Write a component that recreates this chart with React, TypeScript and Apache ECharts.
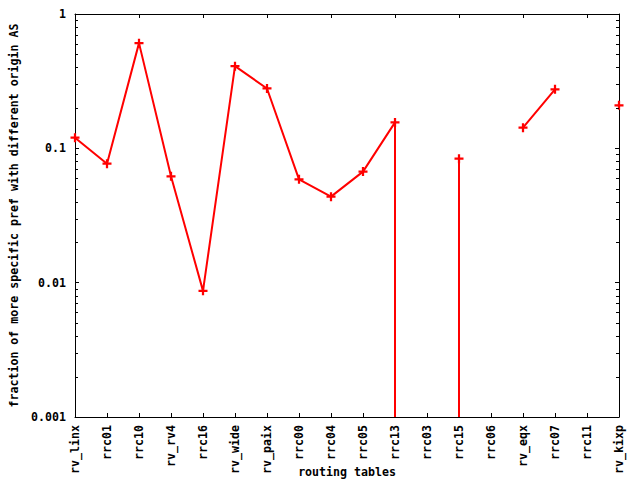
import React, { useEffect, useRef } from "react";
import * as echarts from "echarts";

const categories = [
  "rv_linx", "rrc01", "rrc10", "rv_rv4", "rrc16", "rv_wide", "rv_paix", "rrc00", "rrc04",
  "rrc05", "rrc13", "rrc03", "rrc15", "rrc06", "rv_eqx", "rrc07", "rrc11", "rv_kixp",
];
const values: (number | null)[] = [
  0.120, 0.0769, 0.607, 0.0619, 0.00869, 0.409, 0.279, 0.0588, 0.0437,
  0.0671, 0.156, null, 0.0838, null, 0.1425, 0.275, null, 0.209,
];
const dropCategories = ["rrc13", "rrc15"];
const yTickValues = [0.001, 0.01, 0.1, 1];
const yMin = 0.001;
const yMax = 1;
const xName = "routing tables";
const yName = "fraction of more specific pref with different origin AS";

const FONT = "DejaVu Sans Mono";
const RED = "#ff0000";
const PLUS = "path://M3,0h2v3h3v2h-3v3h-2v-3h-3v-2h3z";

export default function App() {
  const ref = useRef<HTMLDivElement>(null);
  useEffect(() => {
    const chart = echarts.init(ref.current!, null, { renderer: "svg" });

    const minorVals: number[][] = [];
    for (let d = 0; d < yTickValues.length - 1; d++) {
      for (let m = 2; m <= 9; m++) minorVals.push([0, yTickValues[d] * m]);
    }

    const dropSeries = dropCategories.map((c) => {
      const i = categories.indexOf(c);
      return {
        type: "line",
        data: [[i, values[i]], [i, yMin]],
        symbol: "none",
        lineStyle: { color: RED, width: 2 },
        silent: true,
        z: 3,
      };
    });

    const labelStyle = { fontFamily: FONT, fontWeight: "bold", fontSize: 11.6, color: "#000" };

    chart.setOption({
      animation: false,
      backgroundColor: "#fff",
      grid: { left: 75, top: 14, right: 21, bottom: 63, containLabel: false, outerBoundsMode: "none" },
      xAxis: [
        {
          type: "category",
          data: categories,
          boundaryGap: false,
          name: xName,
          nameLocation: "middle",
          nameGap: 49,
          nameMoveOverlap: false,
          nameTextStyle: { ...labelStyle },
          axisLine: { lineStyle: { color: "#000", width: 1 } },
          axisTick: { inside: true, length: 4, lineStyle: { color: "#000" } },
          axisLabel: { ...labelStyle, rotate: 90, margin: 8, interval: 0 },
          splitLine: { show: false },
        },
        {
          type: "category",
          data: categories,
          boundaryGap: false,
          position: "top",
          axisLine: { lineStyle: { color: "#000", width: 1 } },
          axisTick: { inside: true, length: 4, lineStyle: { color: "#000" } },
          axisLabel: { show: false },
          splitLine: { show: false },
        },
      ],
      yAxis: [
        {
          type: "log",
          logBase: 10,
          min: yMin,
          max: yMax,
          name: yName,
          nameLocation: "middle",
          nameGap: 55,
          nameTextStyle: { ...labelStyle },
          axisLine: { show: true, lineStyle: { color: "#000", width: 1 } },
          axisTick: { show: true, inside: true, length: 4, lineStyle: { color: "#000" } },
          axisLabel: { ...labelStyle, margin: 9, formatter: (v: number) => String(v) },
          splitLine: { show: false },
        },
        {
          type: "log",
          logBase: 10,
          min: yMin,
          max: yMax,
          position: "right",
          axisLine: { show: true, lineStyle: { color: "#000", width: 1 } },
          axisTick: { show: true, inside: true, length: 4, lineStyle: { color: "#000" } },
          axisLabel: { show: false },
          splitLine: { show: false },
        },
      ],
      series: [
        {
          type: "line",
          data: values,
          connectNulls: false,
          symbol: PLUS,
          symbolSize: 9,
          showAllSymbol: true,
          itemStyle: { color: RED },
          lineStyle: { color: RED, width: 2 },
          z: 4,
        },
        ...dropSeries,
        {
          type: "custom",
          data: minorVals,
          silent: true,
          clip: false,
          z: 5,
          renderItem: (params: any, api: any) => {
            const cs = params.coordSys;
            const y = Math.round(api.coord([0, api.value(1)])[1]) + 0.5;
            const style = { stroke: "#000", lineWidth: 1, fill: null };
            return {
              type: "group",
              children: [
                { type: "line", shape: { x1: cs.x, y1: y, x2: cs.x + 3, y2: y }, style },
                { type: "line", shape: { x1: cs.x + cs.width - 3, y1: y, x2: cs.x + cs.width, y2: y }, style },
              ],
            };
          },
        },
      ],
    });
    return () => chart.dispose();
  }, []);
  return <div ref={ref} style={{ width: 640, height: 480, position: "absolute", left: 0, top: 0 }} />;
}
